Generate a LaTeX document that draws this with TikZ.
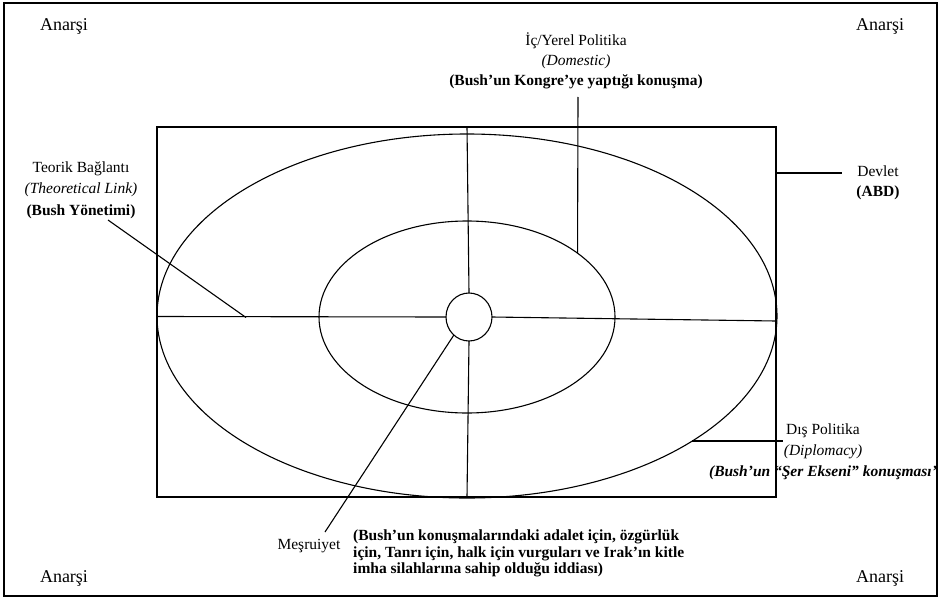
\documentclass[tikz,border=0pt]{standalone}
\usepackage{fontspec}
\setmainfont{Liberation Serif}
\usetikzlibrary{shapes.geometric}
\begin{document}
\begin{tikzpicture}[x=1pt,y=-1pt,
  thin line/.style={line width=1.1pt},
  thick frame/.style={line width=1.6pt},
  lbl/.style={font=\fontsize{15.5}{20}\selectfont, inner sep=0pt, align=center},
  corner/.style={font=\fontsize{18}{20}\selectfont, inner sep=0pt},
  ell/.style={ellipse, draw, thin line, inner sep=0pt, outer sep=0pt}]
\useasboundingbox (0,0) rectangle (941,599);
% outer frame
\node[draw, thick frame, minimum width=933pt, minimum height=593pt, inner sep=0pt, outer sep=0pt] (frame) at (470.5,299.5) {};
% corners
\node[corner] (a1) at (64,26) {Anarşi};
\node[corner] (a2) at (880,26) {Anarşi};
\node[corner] (a3) at (64,578) {Anarşi};
\node[corner] (a4) at (880,578) {Anarşi};
% state rectangle
\node[draw, thick frame, minimum width=619pt, minimum height=370pt, inner sep=0pt, outer sep=0pt] (state) at (466.5,312) {};
% ellipses
\node[ell, minimum width=620pt, minimum height=364pt] (outer) at (467,316) {};
\node[ell, minimum width=296pt, minimum height=192pt] (inner) at (467,317) {};
\node[ell, minimum width=46pt, minimum height=48pt] (hub) at (469,317) {};
% axes
\coordinate (hl) at (157,316.5);
\coordinate (hr) at (776,321);
\coordinate (vt) at (467,127);
\coordinate (vb) at (467,497);
\draw[thin line] (hl) -- (hub.west);
\draw[thin line] (hub.east) -- (hr);
\draw[thin line] (vt) -- (hub.north);
\draw[thin line] (hub.south) -- (vb);
% top label
\node[lbl] (dom) at (576,61) {İç/Yerel Politika\\\textit{(Domestic)}\\\textbf{(Bush’un Kongre’ye yaptığı konuşma)}};
\coordinate (domtop) at (578,97);
\draw[thin line] (domtop) -- (inner.30.8);
% left label
\node[lbl, font=\fontsize{15.5}{21.5}\selectfont] (teo) at (81,190) {Teorik Bağlantı\\\textit{(Theoretical Link)}\\\textbf{(Bush Yönetimi)}};
\coordinate (teostart) at (108,220);
\coordinate (teoend) at (246,317.5);
\draw[thin line] (teostart) -- (teoend);
% Devlet
\node[lbl] (dev) at (878,183) {Devlet\\\textbf{(ABD)}};
\coordinate (devend) at (842,173);
\draw[thin line] (state.east |- devend) -- (devend);
% Dis politika
\node[lbl, font=\fontsize{15.5}{21}\selectfont] (dis) at (823,452) {Dış Politika\\\textit{(Diplomacy)}\\\textbf{\textit{(Bush’un “Şer Ekseni” konuşması’}}};
\coordinate (disend) at (783,441);
\draw[thin line] (outer.-29) -- (outer.-29 -| disend);
% Mesruiyet
\node[lbl] (mes) at (309,546) {Meşruiyet};
\coordinate (mesend) at (325,532);
\draw[thin line] (hub.-130) -- (mesend);
\node[lbl, align=left, anchor=north west, font=\bfseries\fontsize{15.5}{16.5}\selectfont] (note) at (353,530) {(Bush’un konuşmalarındaki adalet için, özgürlük\\için, Tanrı için, halk için vurguları ve Irak’ın kitle\\imha silahlarına sahip olduğu iddiası)};
\end{tikzpicture}
\end{document}
